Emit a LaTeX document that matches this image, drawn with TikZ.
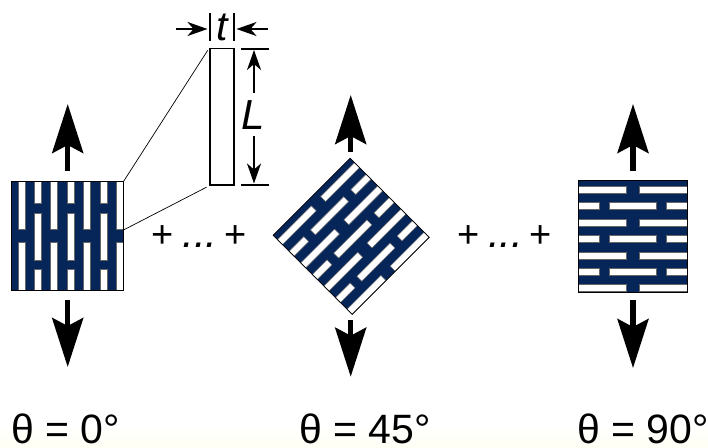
\documentclass[tikz,border=0pt]{standalone}
\usepackage{fontspec}
\setmainfont{Liberation Sans}
\usetikzlibrary{arrows.meta}
\definecolor{meshblue}{HTML}{06265A}
\newcommand{\slitpanel}[3]{%
  \begin{scope}[shift={(#1,#2)}, rotate=#3, shift={(-56,-54.5)}]
  \fill[meshblue] (0,0) rectangle (112,109);
  \foreach \u in {5.8,38.6,71.4,104.2}
    \foreach \va/\vb in {0/48,61.2/109}
      \draw[slit] (\u+0.5,\va) rectangle (\u+7.5,\vb);
  \foreach \u in {22.2,55,87.8}
    \foreach \va/\vb in {0/21.8,31.8/78.8,88.2/109}
      \draw[slit] (\u+0.5,\va) rectangle (\u+7.5,\vb);
  \draw[black, line width=0.7pt] (0,0) rectangle (112,109);
  \end{scope}}

\begin{document}
\begin{tikzpicture}[x=1pt, y=-1pt,
  slit/.style={fill=white, draw=black!60, line width=0.5pt},
  bigarrow/.style={-{Stealth[length=49pt, width=31pt, inset=8pt]}, line width=5.3pt},
  dimarrow/.style={-{Stealth[length=20pt, width=14pt, inset=6pt]}, line width=1.9pt},
  dimline/.style={black, line width=1.6pt},
  leader/.style={black, line width=0.7pt, shorten >=3pt},
  sumtext/.style={font=\fontsize{38}{38}\selectfont, inner sep=0pt},
  dotstext/.style={font=\fontsize{42}{42}\itshape\selectfont, anchor=base, inner sep=0pt},
  anglelabel/.style={font=\fontsize{41}{42}\selectfont, anchor=base west, inner sep=0pt}]
\useasboundingbox (0,0) rectangle (708,447);
\shade[top color=white, bottom color=yellow!4, draw=none] (0,425) rectangle (708,447);

\slitpanel{67.6}{236}{0}
\slitpanel{351.2}{236.3}{-45}
\slitpanel{633.2}{236}{-90}

\foreach \name/\xc/\uptip/\uptail/\downtail/\downtip in {
left/67.7/104/171/300/367,
mid/350.7/95/151.7/320/376.7,
right/633/104/171/300/368} {
  \coordinate (\name uptail) at (\xc,\uptail);
  \coordinate (\name uptip) at (\xc,\uptip);
  \coordinate (\name downtail) at (\xc,\downtail);
  \coordinate (\name downtip) at (\xc,\downtip);
  \draw[bigarrow] (\name uptail) -- (\name uptip);
  \draw[bigarrow] (\name downtail) -- (\name downtip);
}

\node[draw, line width=1.4pt, minimum width=24pt, minimum height=136.5pt, inner sep=0pt] (strut) at (222,116.8) {};
\coordinate (cornertop) at (123.5,181.5);
\coordinate (cornermid) at (123.5,230);
\draw[leader] (cornertop) -- (strut.north west);
\draw[leader] (cornermid) -- (strut.south west);

\node[font=\fontsize{41}{41}\itshape\selectfont, inner sep=0pt] (tlabel) at (222,27) {t};
\coordinate (ticktA) at (210,13);
\coordinate (ticktB) at (210,41);
\coordinate (ticktC) at (234,13);
\coordinate (ticktD) at (234,41);
\draw[dimline] (ticktA) -- (ticktB);
\draw[dimline] (ticktC) -- (ticktD);
\coordinate (tleftfrom) at (176,29);
\coordinate (tleftto) at (207.5,29);
\coordinate (trightfrom) at (268,29);
\coordinate (trightto) at (236.5,29);
\draw[dimarrow] (tleftfrom) -- (tleftto);
\draw[dimarrow] (trightfrom) -- (trightto);

\node[font=\fontsize{42}{42}\itshape\selectfont, inner sep=0pt] (Llabel) at (253.5,115) {L};
\coordinate (tickLA) at (241,48.7);
\coordinate (tickLB) at (268.7,48.7);
\coordinate (tickLC) at (241,185);
\coordinate (tickLD) at (268.7,185);
\draw[dimline] (tickLA) -- (tickLB);
\draw[dimline] (tickLC) -- (tickLD);
\coordinate (Lupfrom) at (254,92.7);
\coordinate (Lupto) at (254,50);
\coordinate (Ldownfrom) at (254,135.7);
\coordinate (Ldownto) at (254,183.5);
\draw[dimarrow] (Lupfrom) -- (Lupto);
\draw[dimarrow] (Ldownfrom) -- (Ldownto);

\foreach \xa/\xb/\xc/\id in {162.7/200/235.7/a, 468.3/505.5/541/b} {
  \node[sumtext] (plus\id one) at (\xa,237) {+};
  \node[dotstext] (dots\id) at (\xb,247) {...};
  \node[sumtext] (plus\id two) at (\xc,237) {+};
}

\node[anglelabel] (angleA) at (11,443) {θ = 0°};
\node[anglelabel] (angleB) at (299,443) {θ = 45°};
\node[anglelabel] (angleC) at (577,443) {θ = 90°};
\end{tikzpicture}
\end{document}
